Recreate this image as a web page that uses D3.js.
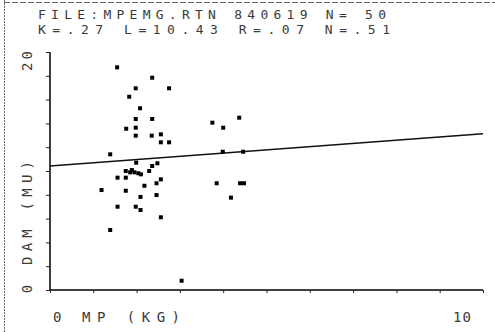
<!DOCTYPE html>
<html>
<head>
<meta charset="utf-8">
<script src="https://cdn.jsdelivr.net/npm/d3@7"></script>
<style>
  body { margin: 0; background: #fff; }
  text { font-family: "DejaVu Sans Mono", monospace; fill: #3a3a3a; }
</style>
</head>
<body>
<div id="canvas"></div>
<script>
// values
const mpKg = [1.55, 2.36, 1.98, 2.75, 1.83, 2.08, 1.98, 2.36, 1.76, 1.98,
  1.98, 2.35, 2.56, 2.56, 2.75, 1.39, 1.99, 2.36, 2.48, 2.29,
  1.75, 1.85, 1.95, 2.04, 2.10, 1.56, 1.75, 2.18, 2.46, 2.56,
  1.19, 1.75, 2.09, 2.46, 1.56, 1.98, 2.09, 2.56, 1.39, 3.04,
  3.75, 4.00, 4.37, 3.99, 4.46, 3.85, 4.39, 4.48, 4.18, 1.89];
const damMu = [18.71, 17.84, 16.95, 16.95, 16.24, 15.27, 14.37, 14.37, 13.55, 13.64,
  12.97, 12.97, 13.08, 12.41, 12.41, 11.40, 10.70, 10.42, 10.65, 10.00,
  10.00, 9.89, 9.89, 9.81, 9.72, 9.44, 9.44, 8.76, 8.97, 9.30,
  8.40, 8.34, 7.82, 7.98, 7.00, 7.00, 6.72, 6.11, 5.04, 0.78,
  14.06, 13.64, 14.48, 11.62, 11.62, 8.97, 8.97, 8.97, 7.76, 10.08];
const titleLines = ['FILE:MPEMG.RTN 840619 N= 50', 'K=.27 L=10.43 R=.07 N=.51'];
const slopeK = 0.27, interceptL = 10.43;
const xDomain = [0, 10], yDomain = [0, 20];
const xTicks = d3.range(0, 11, 1);
const yTicks = d3.range(0, 21, 2);

const W = 495, H = 332;
const svg = d3.select('#canvas').append('svg')
    .attr('width', W).attr('height', H);

// frame edges
svg.append('line').attr('x1', 4.5).attr('x2', 4.5).attr('y1', 0).attr('y2', H)
    .attr('stroke', '#666').attr('stroke-dasharray', '2,1');
svg.append('line').attr('x1', 4).attr('x2', W).attr('y1', 2.5).attr('y2', 2.5)
    .attr('stroke', '#666').attr('stroke-dasharray', '6,2');

const xScale = d3.scaleLinear().domain(xDomain).range([50, 483]);
const yScale = d3.scaleLinear().domain(yDomain).range([290, 52]);

// title
svg.selectAll('.title')
    .data(titleLines)
    .enter().append('text')
    .attr('class', 'title')
    .attr('x', 38)
    .attr('y', (d, i) => 18.5 + i * 15.5)
    .attr('font-size', 13)
    .attr('textLength', (d, i) => i === 0 ? 348 : 352)
    .attr('lengthAdjust', 'spacing')
    .text(d => d);

const xAxis = d3.axisBottom(xScale).tickValues(xTicks).tickSize(3).tickFormat('');
const yAxis = d3.axisLeft(yScale).tickValues(yTicks).tickSize(4).tickFormat('');

svg.append('g').call(xAxis)
    .attr('transform', `translate(0, ${yScale(0)})`)
    .call(g => g.select('.domain').attr('stroke-width', 1.5).attr('d', `M50,0H483`));
svg.append('g').call(yAxis)
    .attr('transform', `translate(${xScale(0)}, 0)`)
    .call(g => g.select('.domain').attr('stroke-width', 1.5).attr('d', `M0,52V290`));
svg.selectAll('.tick line').attr('stroke', '#222');

// axis labels
svg.append('text').attr('x', 53).attr('y', 322).attr('font-size', 14).text('0');
svg.append('text').attr('x', 82).attr('y', 322).attr('font-size', 14)
    .attr('textLength', 98).attr('lengthAdjust', 'spacing').text('MP (KG)');
svg.append('text').attr('x', 453).attr('y', 322).attr('font-size', 14)
    .attr('textLength', 18).attr('lengthAdjust', 'spacing').text('10');

const rot = (x, y, s, size, len) => {
  const t = svg.append('text')
      .attr('transform', `translate(${x}, ${y}) rotate(-90)`)
      .attr('text-anchor', 'middle')
      .attr('font-size', size)
      .text(s);
  if (len) t.attr('textLength', len).attr('lengthAdjust', 'spacing');
};
rot(32, 289, '0', 14);
rot(32, 61, '20', 14, 20);
rot(32, 213, 'DAM (MU)', 14, 104);

// regression line
svg.append('line')
    .attr('x1', xScale(0)).attr('y1', yScale(interceptL))
    .attr('x2', xScale(10)).attr('y2', yScale(interceptL + slopeK * 10))
    .attr('stroke', '#111').attr('stroke-width', 1.5);

// points
svg.selectAll('.pt')
    .data(mpKg)
    .enter().append('rect')
    .attr('class', 'pt')
    .attr('x', (d, i) => xScale(d) - 2)
    .attr('y', (d, i) => yScale(damMu[i]) - 2)
    .attr('width', 4)
    .attr('height', 4)
    .attr('fill', '#000');
</script>
</body>
</html>
